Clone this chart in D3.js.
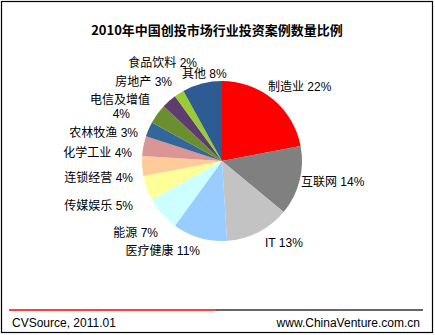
<!DOCTYPE html>
<html><head><meta charset="utf-8">
<script src="https://cdn.jsdelivr.net/npm/d3@7"></script>
<style>body{margin:0;background:#fff}svg{display:block}</style>
</head><body>
<script>
const categories = ["制造业","互联网","IT","医疗健康","能源","传媒娱乐","连锁经营","化学工业","农林牧渔","电信及增值","房地产","食品饮料","其他"];
const values = [22,14,13,11,7,5,4,4,3,4,3,2,8];
const colors = ["#ff0000","#808080","#c3c3c3","#99ccff","#ccffff","#ffff99","#ffcc99","#d99694","#336699","#6b8e2f","#5e3c6e","#99cc33","#2f5b93"];
// label anchor positions (text layout)
const labelPos = [
  [268,87,"start"],[301,182,"start"],[265,243,"start"],[200,251,"end"],[158,233,"end"],
  [133,206,"end"],[133,178,"end"],[132,153,"end"],[138,133,"end"],[150,100,"end"],
  [172,82,"end"],[197,63,"end"],[182,74,"start"]
];
const W=435,H=335;
const svg=d3.select("body").append("svg").attr("width",W).attr("height",H);
const font="'Liberation Sans','Noto Sans CJK SC',sans-serif";
svg.append("rect").attr("x",1.5).attr("y",1.5).attr("width",431).attr("height",331)
  .attr("fill","#fff").attr("stroke","#000").attr("stroke-width",1.2);
svg.append("text").attr("x",217).attr("y",35).attr("text-anchor","middle")
  .attr("font-family","'Noto Sans CJK SC',sans-serif").attr("font-weight","bold").attr("font-size",13)
  .text("2010年中国创投市场行业投资案例数量比例");
const cx=222,cy=161,r=80;
const pie=d3.pie().sort(null).value(d=>d);
const arc=d3.arc().innerRadius(0).outerRadius(r);
const g=svg.append("g").attr("transform",`translate(${cx},${cy})`);
g.selectAll("path").data(pie(values)).enter().append("path")
  .attr("d",arc).attr("fill",(d,i)=>colors[i]);
const lbl=svg.append("g").attr("font-family",font).attr("font-size",12).attr("fill","#000");
categories.forEach((c,i)=>{
  const [x,y,a]=labelPos[i];
  if(c==="电信及增值"){
    lbl.append("text").attr("x",x).attr("y",y+4).attr("text-anchor",a).text(c);
    lbl.append("text").attr("x",130).attr("y",y+18).attr("text-anchor","end").text(values[i]+"%");
  } else {
    lbl.append("text").attr("x",x).attr("y",y+4).attr("text-anchor",a).text(c+" "+values[i]+"%");
  }
});
svg.append("line").attr("x1",9).attr("x2",216).attr("y1",310).attr("y2",310).attr("stroke","#ff0000").attr("stroke-width",1.5);
svg.append("line").attr("x1",216).attr("x2",423).attr("y1",310).attr("y2",310).attr("stroke","#333").attr("stroke-width",1.5);
svg.append("text").attr("x",12).attr("y",327).attr("font-family",font).attr("font-size",12).text("CVSource, 2011.01");
svg.append("text").attr("x",420).attr("y",327).attr("text-anchor","end").attr("font-family",font).attr("font-size",12).text("www.ChinaVenture.com.cn");
</script>
</body></html>
